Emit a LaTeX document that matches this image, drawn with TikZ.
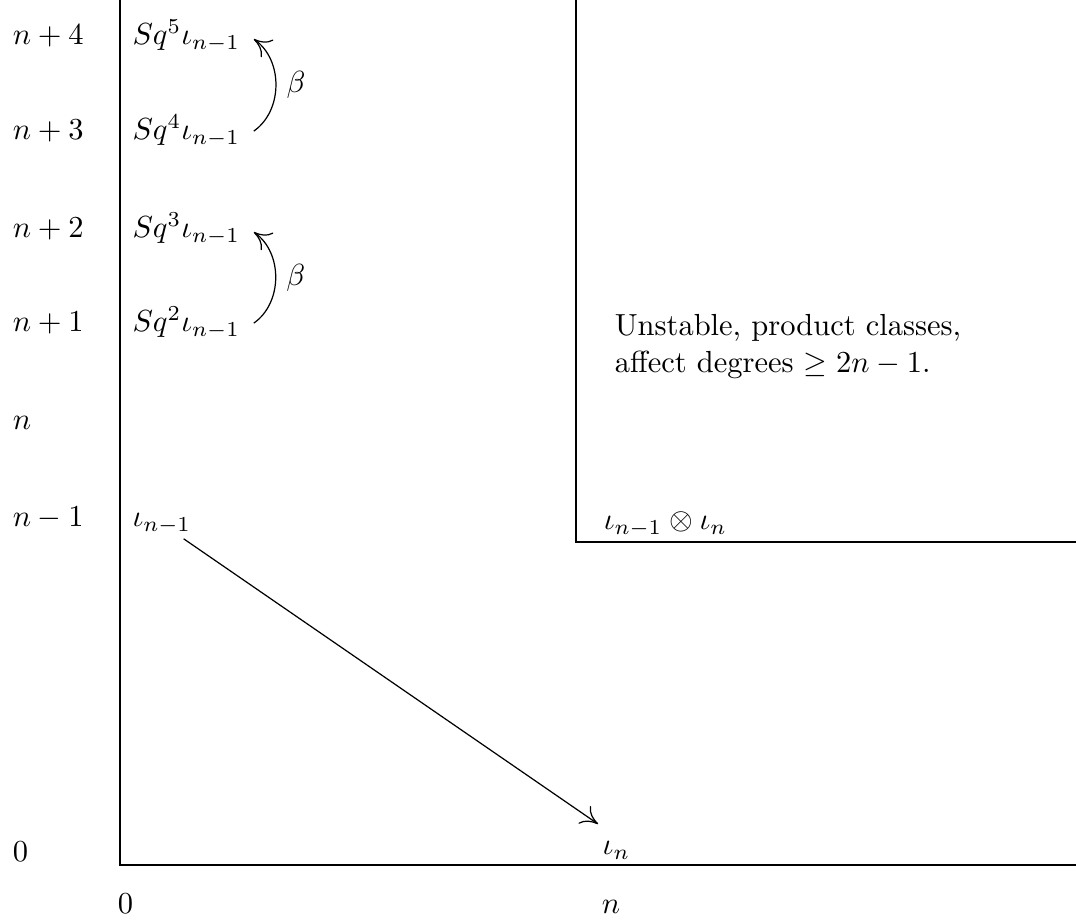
\documentclass[tikz,border=0pt]{standalone}
\usetikzlibrary{arrows.meta}
\begin{document}
\begin{tikzpicture}[
  x=1cm,
  y=1cm,
  >={Computer Modern Rightarrow[length=5.5pt,width=7pt]},
  degree/.style={anchor=base west},
  colnum/.style={anchor=base},
  entry/.style={anchor=base west},
  axis/.style={draw=black, line width=0.4pt},
  diff/.style={->, draw=black, line width=0.4pt},
  note/.style={align=left, anchor=north west}
]
\useasboundingbox (-1.383,-0.657) rectangle (11.017,9.968);

% ---------------------------------------------------------------------------
% Axes and the unstable corner
% ---------------------------------------------------------------------------
\draw[axis] (0,9.968) -- (0,0) -- (11.017,0);
\draw[axis] (5.255,9.968) -- (5.255,3.722) -- (11.017,3.722);

% Row degrees.
\node[degree] (dfour) at (-1.36,9.450) {$n+4$};
\node[degree] (dthree) at (-1.36,8.355) {$n+3$};
\node[degree] (dtwo) at (-1.36,7.226) {$n+2$};
\node[degree] (done) at (-1.36,6.142) {$n+1$};
\node[degree] (dn) at (-1.36,5.013) {$n$};
\node[degree] (dnm) at (-1.36,3.895) {$n-1$};
\node[degree] (dzero) at (-1.36,0.035) {$0$};

% Column degrees.
\node[colnum] (czero) at (0.063,-0.565) {$0$};
\node[colnum] (cn) at (5.658,-0.565) {$n$};

% ---------------------------------------------------------------------------
% Classes
% ---------------------------------------------------------------------------
\node[entry] (sqfive) at (0.02,9.450) {$Sq^5\iota_{n-1}$};
\node[entry] (sqfour) at (0.02,8.355) {$Sq^4\iota_{n-1}$};
\node[entry] (sqthree) at (0.02,7.226) {$Sq^3\iota_{n-1}$};
\node[entry] (sqtwo) at (0.02,6.142) {$Sq^2\iota_{n-1}$};
\node[entry] (inm) at (0.02,3.895) {$\iota_{n-1}$};
\node[entry] (in) at (5.439,0.115) {$\iota_n$};
\node[entry] (prod) at (5.451,3.861) {$\iota_{n-1}\otimes\iota_n$};

\node[note] (unst) at (5.578,6.465) {Unstable, product classes,\\
  affect degrees $\geq 2n-1$.};

% Differentials.
\draw[diff] ([xshift=1pt]sqfour.east) to[bend right=55]
  node[right] {$\beta$} ([xshift=1pt,yshift=-1pt]sqfive.east);
\draw[diff] ([xshift=1pt]sqtwo.east) to[bend right=55]
  node[right] {$\beta$} ([xshift=1pt,yshift=-1pt]sqthree.east);
\draw[diff] ([xshift=-6pt,yshift=2pt]inm.south east)
  -- ([xshift=2pt,yshift=2.3pt]in.north west);

\end{tikzpicture}
\end{document}
